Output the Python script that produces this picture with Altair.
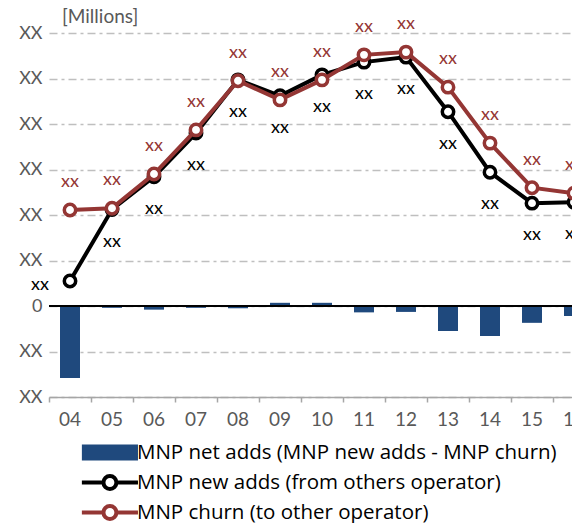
import altair as alt
import pandas as pd

# ---------------- data ----------------
years = ["04", "05", "06", "07", "08", "09", "10", "11", "12", "13", "14", "15", "16"]
new_adds = [0.55, 2.12, 2.84, 3.80, 4.97, 4.62, 5.08, 5.36, 5.47, 4.27, 2.94, 2.26, 2.28]
churn = [2.11, 2.15, 2.90, 3.87, 4.95, 4.53, 4.97, 5.52, 5.58, 4.81, 3.58, 2.60, 2.48]
net_adds = [-1.58, -0.04, -0.08, -0.04, -0.05, 0.07, 0.07, -0.14, -0.13, -0.55, -0.66, -0.37, -0.22]
new_labels = ["xx"] * 13
churn_labels = ["xx"] * 13
y_ticks = [-2, -1, 0, 1, 2, 3, 4, 5, 6]
y_tick_labels = ["XX", "XX", "0", "XX", "XX", "XX", "XX", "XX", "XX"]
series_names = [
    "MNP net adds (MNP new adds - MNP churn)",
    "MNP new adds (from others operator)",
    "MNP churn (to other operator)",
]
unit_title = "[Millions]"

# ---------------- styles ----------------
BLUE = "#1f497d"
BLACK = "#000000"
RED = "#943634"
GRAY = "#595959"
FONT = "Lato"
PAD_L, PAD_T, W, H = 41, 25, 523, 364
SVG_H = 515
STEP = 42

df_bar = pd.DataFrame({"year": years, "value": net_adds, "series": series_names[0]})
df_new = pd.DataFrame({"year": years, "value": new_adds, "label": new_labels, "series": series_names[1]})
df_churn = pd.DataFrame({"year": years, "value": churn, "label": churn_labels, "series": series_names[2]})

label_expr = " : ".join(
    f"datum.value == {v} ? '{t}'" for v, t in zip(y_ticks[:-1], y_tick_labels[:-1])
) + f" : '{y_tick_labels[-1]}'"

X = alt.X(
    "year:O",
    sort=years,
    scale=alt.Scale(paddingInner=0, paddingOuter=0, range=[0, STEP * len(years)]),
    axis=alt.Axis(
        title=None, labelAngle=0, bandPosition=0,
        domainColor="#a6a6a6", domainWidth=1.5, tickColor="#a6a6a6", tickWidth=1.5,
        tickSize=5, labelFont=FONT, labelFontSize=19, labelColor=GRAY, labelPadding=8,
        grid=False,
    ),
)
Y = alt.Y(
    "value:Q",
    scale=alt.Scale(domain=[-2, 6], nice=False, zero=False),
    axis=alt.Axis(
        title=None, values=y_ticks, labelExpr=label_expr, domain=False, ticks=False,
        grid=True, gridColor="#bfbfbf", gridDash=[8, 4, 3, 4], gridWidth=1.5,
        labelFont=FONT, labelFontSize=18, labelColor=GRAY, labelPadding=7,
    ),
)

# legend symbols (custom paths, unit = 8.5 px)
BARSYM = "M-5.25,-0.72H1.35M-5.25,-0.36H1.35M-5.25,0H1.35M-5.25,0.36H1.35M-5.25,0.72H1.35"
LINEC = ("M-5.25,0H-2.71M-1.19,0H1.35"
         "M-1.19,0A0.76,0.76 0 1,1 -2.71,0A0.76,0.76 0 1,1 -1.19,0Z")
t_net = f"datum.value === '{series_names[0]}'"
t_new = f"datum.value === '{series_names[1]}'"
legend = alt.Legend(
    title=None, orient="none", legendX=67, legendY=409, direction="vertical",
    symbolSize=289, labelFont="Open Sans", labelFontSize=20.5, labelColor="black",
    labelOffset=0, rowPadding=1, symbolOpacity=1, labelLimit=600, symbolStrokeWidth=4,
    symbolType={"expr": f"{t_net} ? '{BARSYM}' : '{LINEC}'"},
    symbolFillColor={"expr": f"{t_net} ? 'transparent' : 'white'"},
    symbolStrokeColor={"expr": f"{t_net} ? '{BLUE}' : ({t_new} ? '{BLACK}' : '{RED}')"},
)
STROKE = alt.Stroke("series:N", scale=alt.Scale(domain=series_names, range=[BLUE, BLACK, RED]),
                    legend=legend)

bars = alt.Chart(df_bar).mark_bar(width=20, color=BLUE).encode(x=X, y=Y)
zero = alt.Chart(df_bar).mark_rule(color="black", strokeWidth=1.5).encode(y=alt.datum(0))

line_new = alt.Chart(df_new).mark_line(strokeWidth=4).encode(x=X, y=Y, stroke=STROKE)
pts_new = alt.Chart(df_new).mark_point(shape="circle", filled=True, fill="white", size=130,
                                       strokeWidth=3.5, opacity=1).encode(x=X, y=Y, stroke=STROKE)
line_churn = alt.Chart(df_churn).mark_line(strokeWidth=4).encode(x=X, y=Y, stroke=STROKE)
pts_churn = alt.Chart(df_churn).mark_point(shape="circle", filled=True, fill="white", size=130,
                                           strokeWidth=3.5, opacity=1).encode(x=X, y=Y, stroke=STROKE)

txt_new = alt.Chart(df_new).transform_filter(alt.datum.year != years[0]).mark_text(
    dy=32, font=FONT, fontSize=18, color=BLACK).encode(x=X, y=Y, text="label:N")
txt_new0 = alt.Chart(df_new).transform_filter(alt.datum.year == years[0]).mark_text(
    dx=-30, dy=4, font=FONT, fontSize=18, color=BLACK).encode(x=X, y=Y, text="label:N")
txt_churn = alt.Chart(df_churn).mark_text(
    dy=-28, font=FONT, fontSize=18, color=RED).encode(x=X, y=Y, text="label:N")

chart = alt.layer(
    bars, zero, line_new, pts_new, line_churn, pts_churn, txt_new, txt_new0, txt_churn
).properties(
    width=W, height=H,
    title=alt.TitleParams(unit_title, anchor="start", frame="group", dx=13, dy=20, offset=8,
                          font=FONT, fontSize=19, fontWeight="normal", color=GRAY),
    autosize=alt.AutoSizeParams(type="none"),
    padding={"left": PAD_L, "top": PAD_T, "right": 0, "bottom": SVG_H - PAD_T - H},
).configure_view(stroke=None)

chart.save("out.html", embed_options={"renderer": "svg", "actions": False})
